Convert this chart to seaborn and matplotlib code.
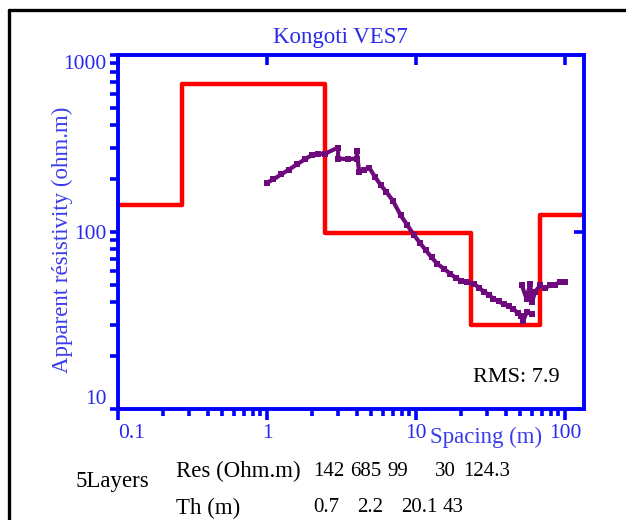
import numpy as np
import pandas as pd
import matplotlib
matplotlib.use("Agg")
import matplotlib.pyplot as plt
import seaborn as sns
from matplotlib.ticker import LogLocator, NullFormatter, FixedLocator, FixedFormatter
from matplotlib.lines import Line2D

sns.set_theme(style="white")
plt.rcParams["font.family"] = ["Liberation Serif", "DejaVu Serif"]

# ---------------- data ----------------
title = "Kongoti VES7"
layer_res = [142, 685, 99, 30, 124.3]
layer_th = [0.7, 2.2, 20.1, 43]
# layer boundaries as drawn in the picture (m)
model_edges = [0.1, 0.27, 2.45, 23.2, 67.5, 134]

# measured apparent resistivity, main branch
spacing_a = [1.0, 1.1, 1.25, 1.4, 1.6, 1.8, 2.0, 2.2, 2.45, 3.0, 3.0, 3.5, 4.0, 4.0,
             4.15, 4.5, 4.85, 5.3, 5.8, 6.3, 7.0, 7.9, 8.7, 9.7, 10.6, 11.6, 12.7,
             13.9, 15.4, 17.0, 18.5, 20.0, 22.0, 24.4, 26.5, 28.5, 31.0, 33.0, 36.0,
             39.0, 42.0, 45.0, 48.0, 51.0, 52.5, 55.2, 59.9]
rho_a = [190, 198, 212, 225, 242, 258, 272, 276, 277, 300, 260, 258, 260, 286,
         219, 225, 231, 205, 184, 169, 150, 124, 110, 96, 87, 79, 72,
         66, 62, 58, 55, 53, 52, 51, 48.5, 46, 44, 42, 40.5,
         39, 38, 36.7, 35, 33.7, 31.6, 35.2, 34.5]
# second (overlapping) branch at large spacing
spacing_b = [51.3, 55.2, 58.3, 59.9, 63.0, 68.0, 73.0, 79.4, 86.0, 92.6, 100.0]
rho_b = [49.9, 41.9, 51.1, 40.1, 46.0, 49.9, 48.0, 49.9, 50.5, 52.2, 52.0]

x_ticks = [0.1, 1, 10, 100]
x_ticklabels = ["0.1", "1", "10", "100"]
y_ticks = [10, 100, 1000]
y_ticklabels = ["10", "100", "1000"]
rms_text = "RMS: 7.9"

# ---------------- figure ----------------
W, H = 626, 520
fig = plt.figure(figsize=(W / 100, H / 100), dpi=100)
fig.patch.set_facecolor("white")

L, R, T, B = 118, 584, 55, 409
ax = fig.add_axes([L / W, 1 - B / H, (R - L) / W, (B - T) / H])
ax.set_facecolor("white")

blue = "#0000ff"
lblue = "#2828ee"
red = "#ff0000"
purple = "#6e0a7e"
FS = 15.5
TFS = 16.5

# model (step) curve
model_df = pd.DataFrame({"x": model_edges, "y": layer_res + [layer_res[-1]]})
sns.lineplot(data=model_df, x="x", y="y", ax=ax, color=red, lw=3.2,
             drawstyle="steps-post", sort=False, estimator=None, zorder=2)

# field data
sns.lineplot(x=spacing_a, y=rho_a, ax=ax, color=purple, lw=3.0, sort=False,
             estimator=None, marker="s", markersize=5, markeredgewidth=0, zorder=3)
sns.lineplot(x=spacing_b, y=rho_b, ax=ax, color=purple, lw=3.0, sort=False,
             estimator=None, marker="s", markersize=5, markeredgewidth=0, zorder=3)

ax.set_xscale("log")
ax.set_yscale("log")
ax.set_xlim(0.1, 134)
ax.set_ylim(10, 1000)
ax.set_xlabel("")
ax.set_ylabel("")

for s in ax.spines.values():
    s.set_color(blue)
    s.set_linewidth(2.8)

ax.xaxis.set_major_locator(FixedLocator(x_ticks))
ax.xaxis.set_major_formatter(FixedFormatter(x_ticklabels))
ax.xaxis.set_minor_locator(LogLocator(base=10, subs=np.arange(2, 10)))
ax.xaxis.set_minor_formatter(NullFormatter())
ax.yaxis.set_major_locator(FixedLocator(y_ticks))
ax.yaxis.set_major_formatter(FixedFormatter(y_ticklabels))
ax.yaxis.set_minor_locator(LogLocator(base=10, subs=np.arange(2, 10)))
ax.yaxis.set_minor_formatter(NullFormatter())

ax.tick_params(axis="both", which="both", direction="out", color=blue,
               labelcolor=lblue, labelsize=FS, width=2.6, bottom=True, left=True,
               top=False, right=False)
ax.tick_params(axis="x", which="major", length=8, pad=3)
ax.tick_params(axis="x", which="minor", length=5)
ax.tick_params(axis="y", which="both", length=6, pad=2)

# inward ticks on top and right
sx = ax.secondary_xaxis("top")
sx.xaxis.set_major_locator(FixedLocator(x_ticks))
sx.xaxis.set_minor_locator(FixedLocator([]))
sx.tick_params(direction="in", length=7, width=2.6, color=blue, labeltop=False)
sx.spines["top"].set_visible(False)
sy = ax.secondary_yaxis("right")
sy.yaxis.set_major_locator(FixedLocator(y_ticks))
sy.yaxis.set_minor_locator(FixedLocator([]))
sy.tick_params(direction="in", length=7, width=2.6, color=blue, labelright=False)
sy.spines["right"].set_visible(False)

# keep end labels inside the frame like the original
yt = ax.yaxis.get_major_ticks()
yt[0].label1.set_va("bottom")
yt[-1].label1.set_va("top")
xt = ax.xaxis.get_major_ticks()
xt[0].label1.set_ha("left")

def px(x, y):
    return x / W, 1 - y / H

fig.text(*px(340, 37), title, color="#2a2ae8", fontsize=TFS, ha="center", va="center")
fig.text(*px(62, 240), "Apparent résistivity (ohm.m)", color="#3a3af0", fontsize=TFS,
         rotation=90, ha="center", va="center")
fig.text(*px(430, 437), "Spacing (m)", color="#3a3af0", fontsize=TFS, ha="left",
         va="center")
fig.text(*px(560, 378), rms_text, color="black", fontsize=16, ha="right", va="center")

fig.text(*px(76, 481), "5Layers", color="black", fontsize=TFS, ha="left", va="center")
fig.text(*px(176, 471), "Res (Ohm.m)", color="black", fontsize=TFS, ha="left", va="center")
fig.text(*px(176, 508), "Th (m)", color="black", fontsize=TFS, ha="left", va="center")

NFS = 15
res_x = [313, 350, 387, 435, 463]
for xx, v in zip(res_x, layer_res):
    fig.text(*px(xx, 472), f"{v:g}", color="black", fontsize=NFS, ha="left", va="center")
th_x = [313, 357, 401, 443]
for xx, v in zip(th_x, layer_th):
    fig.text(*px(xx, 508), f"{v:g}", color="black", fontsize=NFS, ha="left", va="center")

# page frame
fig.add_artist(Line2D([9 / W, 9 / W], [0, 1 - 10 / H], transform=fig.transFigure,
                      color="black", lw=2.4))
fig.add_artist(Line2D([9 / W, 1], [1 - 10 / H, 1 - 10 / H], transform=fig.transFigure,
                      color="black", lw=2.4))

fig.savefig("out.png", dpi=100)
